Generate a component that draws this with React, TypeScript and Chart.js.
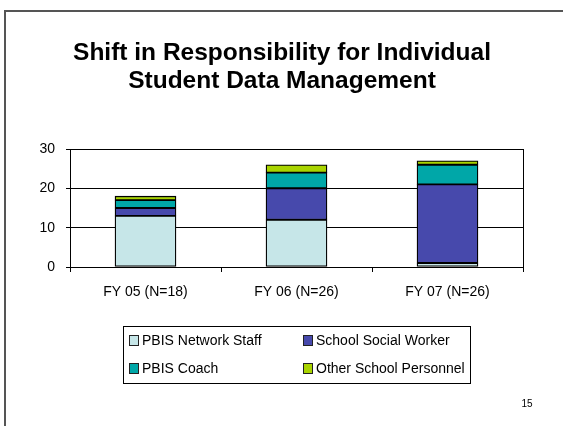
import React, { useEffect, useRef } from "react";
import { Chart, registerables } from "chart.js";

Chart.register(...registerables);

const categories = ["FY 05 (N=18)", "FY 06 (N=26)", "FY 07 (N=26)"];
const networkStaff = [13, 12, 1];
const socialWorker = [2, 8, 20];
const coach = [2, 4, 5];
const otherPersonnel = [1, 2, 1];
const titleLines = ["Shift in Responsibility for Individual", "Student Data Management"];
const pageNumber = "15";

const FONT = '"Liberation Sans", Arial, sans-serif';

const seriesNames = ["PBIS Network Staff", "School Social Worker", "PBIS Coach", "Other School Personnel"];
const seriesColors = ["#C6E6E8", "#4749AC", "#00A7A8", "#A9D400"];

const decorPlugin = {
  id: "decor",
  beforeDraw(chart: any) {
    const ctx = chart.ctx;
    ctx.save();
    ctx.fillStyle = "#ffffff";
    ctx.fillRect(0, 0, chart.width, chart.height);
    // slide border
    ctx.strokeStyle = "#555555";
    ctx.lineWidth = 2;
    ctx.beginPath();
    ctx.moveTo(chart.width + 2, 11);
    ctx.lineTo(5, 11);
    ctx.lineTo(5, chart.height + 2);
    ctx.stroke();
    ctx.restore();
  },
  afterDraw(chart: any) {
    const ctx = chart.ctx;
    const area = chart.chartArea;
    ctx.save();
    // right border of plot area
    ctx.strokeStyle = "#000000";
    ctx.lineWidth = 1;
    ctx.beginPath();
    ctx.moveTo(Math.round(area.right) + 0.5, area.top);
    ctx.lineTo(Math.round(area.right) + 0.5, area.bottom);
    ctx.stroke();

    // title
    ctx.fillStyle = "#000000";
    ctx.font = `bold 24.5px ${FONT}`;
    ctx.textAlign = "center";
    ctx.textBaseline = "alphabetic";
    ctx.fillText(titleLines[0], 282, 60);
    ctx.fillText(titleLines[1], 282, 88);

    // legend box
    ctx.strokeStyle = "#000000";
    ctx.lineWidth = 1;
    ctx.strokeRect(123.5, 326.5, 347, 57);
    const cols = [129, 303];
    const rows = [340, 368];
    const order = [0, 1, 2, 3];
    ctx.font = `14px ${FONT}`;
    ctx.textAlign = "left";
    ctx.textBaseline = "middle";
    order.forEach((idx, i) => {
      const x = cols[i % 2];
      const y = rows[Math.floor(i / 2)];
      ctx.fillStyle = seriesColors[idx];
      ctx.fillRect(x, y - 5, 9, 10);
      ctx.strokeStyle = "#222222";
      ctx.strokeRect(x + 0.5, y - 4.5, 9, 10);
      ctx.fillStyle = "#000000";
      ctx.fillText(seriesNames[idx], x + 13, y + 1);
    });

    // page number
    ctx.font = `10px ${FONT}`;
    ctx.textAlign = "center";
    ctx.fillStyle = "#000000";
    ctx.fillText(pageNumber, 527, 404);
    ctx.restore();
  },
};

export default function App() {
  const ref = useRef<HTMLCanvasElement | null>(null);
  useEffect(() => {
    document.body.style.margin = "0";
    const canvas = ref.current;
    if (!canvas) return;
    const values = [networkStaff, socialWorker, coach, otherPersonnel];
    const chart = new Chart(canvas, {
      type: "bar",
      data: {
        labels: categories,
        datasets: values.map((data, i) => ({
          label: seriesNames[i],
          data,
          backgroundColor: seriesColors[i],
          borderColor: "#000000",
          borderWidth: 1.3,
          borderSkipped: false,
          barThickness: 61,
          categoryPercentage: 1,
        })),
      },
      options: {
        responsive: false,
        animation: false,
        devicePixelRatio: 1,
        layout: { padding: { left: 0, top: 149, right: 40, bottom: 119 } },
        plugins: {
          legend: { display: false },
          title: { display: false },
          tooltip: { enabled: false },
        },
        scales: {
          x: {
            stacked: true,
            afterFit: (s: any) => { s.height = 40; },
            grid: {
              offset: true,
              drawOnChartArea: false,
              drawTicks: true,
              tickLength: 5,
              color: "#000000",
            },
            border: { display: true, color: "#000000", width: 1 },
            ticks: {
              color: "#000000",
              font: { family: FONT, size: 14 },
              padding: 12,
              maxRotation: 0,
            },
          },
          y: {
            stacked: true,
            min: 0,
            max: 30,
            afterFit: (s: any) => { s.width = 70; },
            grid: {
              color: "#000000",
              drawTicks: true,
              tickLength: 4,
            },
            border: { display: true, color: "#000000", width: 1 },
            ticks: {
              stepSize: 10,
              color: "#000000",
              font: { family: FONT, size: 14 },
              padding: 11,
            },
          },
        },
      },
      plugins: [decorPlugin],
    });
    return () => chart.destroy();
  }, []);
  return <canvas ref={ref} width={563} height={426} style={{ display: "block", width: 563, height: 426 }} />;
}
